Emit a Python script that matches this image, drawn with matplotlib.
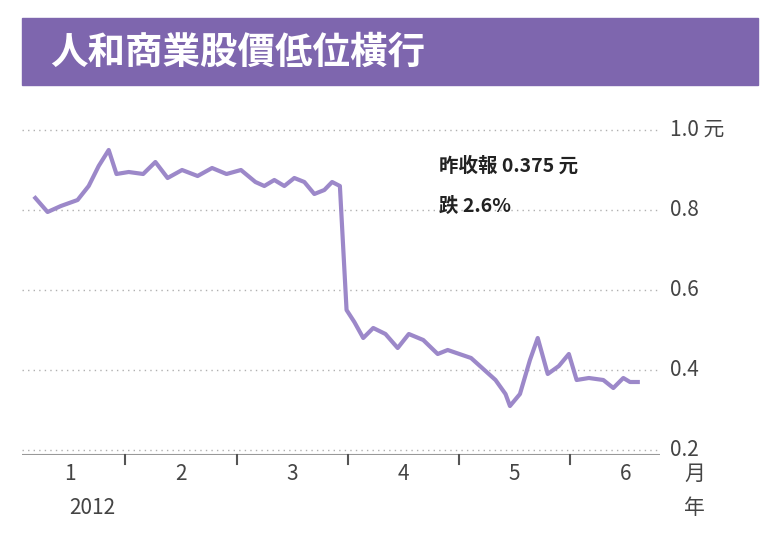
import matplotlib
matplotlib.use('Agg')
import matplotlib.pyplot as plt
from matplotlib.patches import Rectangle
from matplotlib import font_manager

# 找得到的中文字型
cjk = [f.name for f in font_manager.fontManager.ttflist if 'CJK' in f.name]
pref = [n for n in ['Noto Sans CJK TC', 'Noto Sans CJK JP', 'Noto Sans CJK SC', 'Noto Sans CJK KR'] if n in cjk]
plt.rcParams['font.family'] = (pref or cjk[:1]) + ['DejaVu Sans']

# 月份位置（1 = 一月中）與股價（元）
months = [0.69, 0.80, 0.92, 1.07, 1.17, 1.26, 1.35, 1.42, 1.53, 1.66, 1.77, 1.88, 2.01, 2.15,
          2.28, 2.41, 2.54, 2.67, 2.75, 2.84, 2.93, 3.02, 3.11, 3.20, 3.29, 3.36, 3.43, 3.49,
          3.56, 3.64, 3.73, 3.84, 3.95, 4.05, 4.18, 4.31, 4.40, 4.61, 4.69, 4.83, 4.92, 4.96,
          5.05, 5.14, 5.21, 5.30, 5.40, 5.49, 5.56, 5.67, 5.80, 5.89, 5.98, 6.04, 6.11]
prices = [0.83, 0.795, 0.81, 0.825, 0.86, 0.91, 0.95, 0.89, 0.895, 0.89, 0.92, 0.88, 0.90, 0.885,
          0.905, 0.89, 0.90, 0.87, 0.86, 0.875, 0.86, 0.88, 0.87, 0.84, 0.85, 0.87, 0.86, 0.55,
          0.52, 0.48, 0.505, 0.49, 0.455, 0.49, 0.475, 0.44, 0.45, 0.43, 0.41, 0.375, 0.34, 0.31,
          0.34, 0.425, 0.48, 0.39, 0.41, 0.44, 0.375, 0.38, 0.375, 0.355, 0.38, 0.37, 0.37]
y_ticks = [0.2, 0.4, 0.6, 0.8, 1.0]
y_labels = ['0.2', '0.4', '0.6', '0.8', '1.0 元']
month_ticks = [1, 2, 3, 4, 5, 6]
month_labels = ['1', '2', '3', '4', '5', '6']

W, H = 778, 540
fig = plt.figure(figsize=(W / 100, H / 100), dpi=100)
fig.patch.set_facecolor('white')

# 標題橫條
fig.patches.append(Rectangle((22 / W, 1 - 85 / H), 736 / W, 67 / H,
                             transform=fig.transFigure, color='#7e66ae'))
fig.text(50 / W, 1 - 52 / H, '人和商業股價低位橫行', color='white',
         fontsize=27, fontweight='bold', va='center', ha='left')

ax = fig.add_axes([22 / W, 1 - 455 / H, 638 / W, 345 / H])
ax.set_xlim(0.57, 6.31)
ax.set_ylim(0.1875, 1.05)
for s in ax.spines.values():
    s.set_visible(False)
ax.set_xticks([])
ax.set_yticks([])

for v in y_ticks:
    ax.axhline(v, color='#b0b0b0', lw=1, ls=(0, (1, 3)))
ax.axhline(0.1875, color='#999999', lw=1.5)

for v, lab in zip(y_ticks, y_labels):
    ax.text(1.015, v, lab, transform=ax.get_yaxis_transform(), fontsize=15,
            color='#444444', va='center', ha='left', clip_on=False)

for m in month_ticks[:-1]:
    ax.plot([m + 0.5, m + 0.5], [0.1875, 0.165], color='#555555', lw=1.5, clip_on=False)
for m, lab in zip(month_ticks, month_labels):
    ax.text(m, 0.14, lab, fontsize=15, color='#444444', ha='center', va='center', clip_on=False)
ax.text(1.2, 0.055, '2012', fontsize=15, color='#444444', ha='center', va='center', clip_on=False)
ax.text(6.62, 0.14, '月', fontsize=15, color='#444444', ha='center', va='center', clip_on=False)
ax.text(6.62, 0.055, '年', fontsize=15, color='#444444', ha='center', va='center', clip_on=False)

ax.plot(months, prices, color='#9c88c9', lw=3, solid_joinstyle='round')

ax.text(4.32, 0.91, '昨收報 0.375 元', fontsize=14, fontweight='bold', color='#222222', va='center')
ax.text(4.32, 0.81, '跌 2.6%', fontsize=14, fontweight='bold', color='#222222', va='center')

fig.savefig('out.png', dpi=100, facecolor='white')
